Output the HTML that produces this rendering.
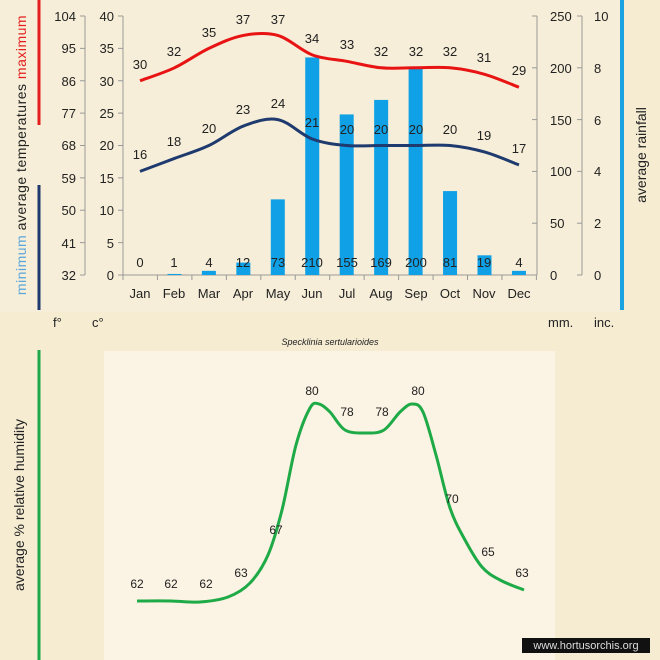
<!DOCTYPE html>
<html><head><meta charset="utf-8">
<style>
body{margin:0;width:660px;height:660px;overflow:hidden;background:#f5ecd2;font-family:"Liberation Sans",sans-serif}
svg{display:block}
text{font-family:"Liberation Sans",sans-serif;fill:#222}
</style></head><body>
<svg width="660" height="660" viewBox="0 0 660 660">
<rect width="660" height="660" fill="#f5ecd2"/>
<rect x="0" y="0" width="620" height="312" fill="#f6eed8"/>
<rect x="104" y="351" width="451" height="309" fill="#fbf3e3"/>
<!-- side bars -->
<line x1="39" y1="0" x2="39" y2="125" stroke="#e41e1e" stroke-width="3"/>
<line x1="39" y1="185" x2="39" y2="310" stroke="#1f3a6e" stroke-width="3"/>
<line x1="622" y1="0" x2="622" y2="310" stroke="#1aa3e0" stroke-width="4"/>
<line x1="39" y1="350" x2="39" y2="660" stroke="#1ea84a" stroke-width="3"/>
<text transform="translate(26,155) rotate(-90)" text-anchor="middle" font-size="14" letter-spacing="0.5"><tspan style="fill:#5aa6dc">minimum</tspan>  average  temperatures  <tspan style="fill:#e41e1e">maximum</tspan></text>
<text transform="translate(646,155) rotate(-90)" text-anchor="middle" font-size="14">average rainfall</text>
<text transform="translate(24,505) rotate(-90)" text-anchor="middle" font-size="14">average %  relative humidity</text>
<!-- axes -->
<g stroke="#999" stroke-width="1" fill="none">
<line x1="85" y1="16" x2="85" y2="275"/>
<line x1="123" y1="16" x2="123" y2="275"/>
<line x1="123" y1="275" x2="537" y2="275"/>
<line x1="537" y1="16" x2="537" y2="275"/>
<line x1="582" y1="16" x2="582" y2="275"/>
</g>
<g id="ticks" stroke="#999" stroke-width="1"></g>
<g font-size="13" text-anchor="end">
<text x="76" y="21">104</text><text x="76" y="53">95</text><text x="76" y="86">86</text><text x="76" y="118">77</text><text x="76" y="150">68</text><text x="76" y="183">59</text><text x="76" y="215">50</text><text x="76" y="248">41</text><text x="76" y="280">32</text>
<text x="114" y="21">40</text><text x="114" y="53">35</text><text x="114" y="86">30</text><text x="114" y="118">25</text><text x="114" y="150">20</text><text x="114" y="183">15</text><text x="114" y="215">10</text><text x="114" y="248">5</text><text x="114" y="280">0</text>
</g>
<g font-size="13">
<text x="550" y="21">250</text><text x="550" y="73">200</text><text x="550" y="125">150</text><text x="550" y="176">100</text><text x="550" y="228">50</text><text x="550" y="280">0</text>
<text x="594" y="21">10</text><text x="594" y="73">8</text><text x="594" y="125">6</text><text x="594" y="176">4</text><text x="594" y="228">2</text><text x="594" y="280">0</text>
<text x="53" y="327">f°</text><text x="92" y="327">c°</text><text x="548" y="327">mm.</text><text x="594" y="327">inc.</text>
</g>
<g id="bars" fill="#0fa0e6"></g>
<path id="pmax" fill="none" stroke="#e81414" stroke-width="3"/>
<path id="pmin" fill="none" stroke="#1f3a6e" stroke-width="3"/>
<g font-size="13" text-anchor="middle">
<text x="140" y="69">30</text><text x="174" y="56">32</text><text x="209" y="37">35</text><text x="243" y="24">37</text><text x="278" y="24">37</text><text x="312" y="43">34</text><text x="347" y="49">33</text><text x="381" y="56">32</text><text x="416" y="56">32</text><text x="450" y="56">32</text><text x="484" y="62">31</text><text x="519" y="75">29</text>
<text x="140" y="159">16</text><text x="174" y="146">18</text><text x="209" y="133">20</text><text x="243" y="114">23</text><text x="278" y="108">24</text><text x="312" y="127">21</text><text x="347" y="134">20</text><text x="381" y="134">20</text><text x="416" y="134">20</text><text x="450" y="134">20</text><text x="484" y="140">19</text><text x="519" y="153">17</text>
<text x="140" y="267">0</text><text x="174" y="267">1</text><text x="209" y="267">4</text><text x="243" y="267">12</text><text x="278" y="267">73</text><text x="312" y="267">210</text><text x="347" y="267">155</text><text x="381" y="267">169</text><text x="416" y="267">200</text><text x="450" y="267">81</text><text x="484" y="267">19</text><text x="519" y="267">4</text>
<text x="140" y="298">Jan</text><text x="174" y="298">Feb</text><text x="209" y="298">Mar</text><text x="243" y="298">Apr</text><text x="278" y="298">May</text><text x="312" y="298">Jun</text><text x="347" y="298">Jul</text><text x="381" y="298">Aug</text><text x="416" y="298">Sep</text><text x="450" y="298">Oct</text><text x="484" y="298">Nov</text><text x="519" y="298">Dec</text>
</g>
<text x="330" y="345" font-size="9" font-style="italic" text-anchor="middle">Specklinia sertularioides</text>
<path id="phum" fill="none" stroke="#1eaa46" stroke-width="3"/>
<g font-size="12" text-anchor="middle">
<text x="137" y="588">62</text><text x="171" y="588">62</text><text x="206" y="588">62</text><text x="241" y="577">63</text><text x="276" y="534">67</text><text x="312" y="395">80</text><text x="347" y="416">78</text><text x="382" y="416">78</text><text x="418" y="395">80</text><text x="452" y="503">70</text><text x="488" y="556">65</text><text x="522" y="577">63</text>
</g>
<rect x="522" y="638" width="128" height="15" fill="#111"/>
<text x="586" y="649" font-size="11" fill="#ddd" style="fill:#ddd" text-anchor="middle">www.hortusorchis.org</text>
</svg>
<script>
function cr(p){var d="M"+p[0][0]+","+p[0][1];for(var i=0;i<p.length-1;i++){var a=p[i-1]||p[i],b=p[i],c=p[i+1],e=p[i+2]||c;d+=" C"+(b[0]+(c[0]-a[0])/6)+","+(b[1]+(c[1]-a[1])/6)+" "+(c[0]-(e[0]-b[0])/6)+","+(c[1]-(e[1]-b[1])/6)+" "+c[0]+","+c[1];}return d;}
var X=[];for(var i=0;i<12;i++)X.push(140+i*34.45);
function ty(v){return 275-v*6.475;}
var mx=[30,32,35,37,37,34,33,32,32,32,31,29],mn=[16,18,20,23,24,21,20,20,20,20,19,17],rn=[0,1,4,12,73,210,155,169,200,81,19,4];
document.getElementById('pmax').setAttribute('d',cr(mx.map(function(v,i){return[X[i],ty(v)]})));
document.getElementById('pmin').setAttribute('d',cr(mn.map(function(v,i){return[X[i],ty(v)]})));
var b="",t="";rn.forEach(function(v,i){var h=v*1.036;b+='<rect x="'+(X[i]-7)+'" y="'+(275-h)+'" width="14" height="'+h+'"/>';});
document.getElementById('bars').innerHTML=b;
for(var k=0;k<=8;k++){var y=16+k*259/8;t+='<line x1="80" y1="'+y+'" x2="85" y2="'+y+'"/><line x1="118" y1="'+y+'" x2="123" y2="'+y+'"/>';}
for(var k=0;k<=5;k++){var y=16+k*259/5;t+='<line x1="532" y1="'+y+'" x2="537" y2="'+y+'"/><line x1="577" y1="'+y+'" x2="582" y2="'+y+'"/>';}
for(var k=0;k<=12;k++){var x=123+k*34.45;t+='<line x1="'+x+'" y1="275" x2="'+x+'" y2="280"/>';}
document.getElementById('ticks').innerHTML=t;
var h=[[137,601],[171,601],[200,602],[228,597],[250,583],[268,555],[282,510],[296,445],[310,408],[319,404],[330,412],[345,430],[366,433],[384,430],[400,412],[412,404],[423,412],[436,455],[450,508],[465,540],[482,567],[500,580],[524,590]];
document.getElementById('phum').setAttribute('d',cr(h));
</script>
</body></html>
